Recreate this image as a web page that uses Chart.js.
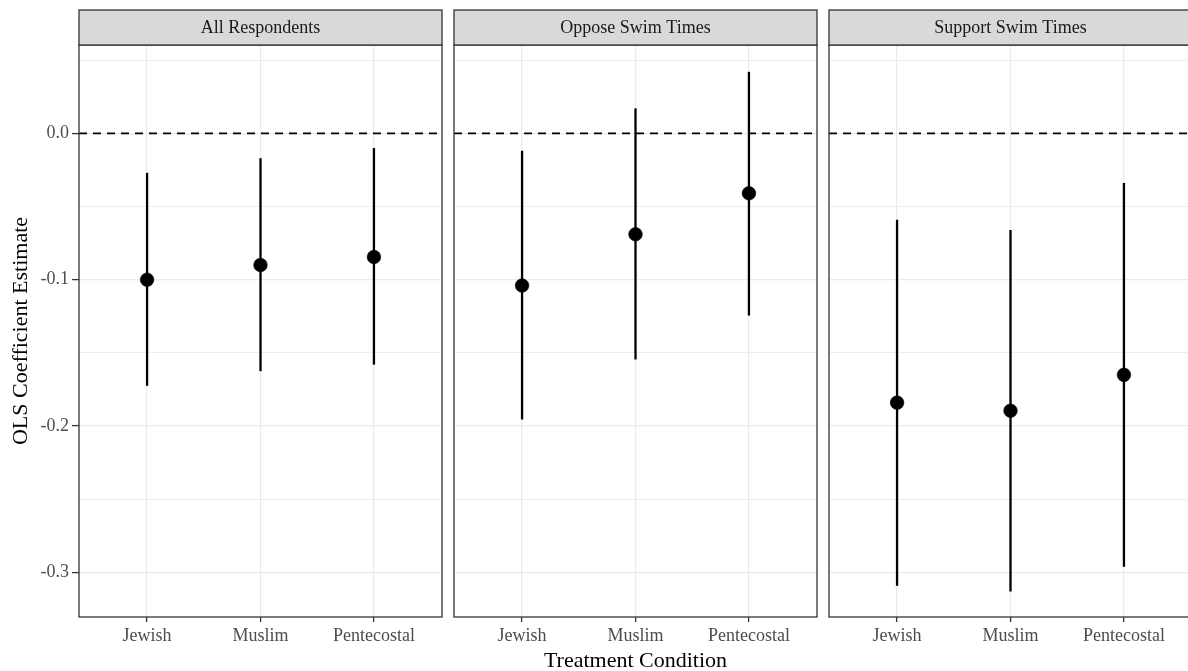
<!DOCTYPE html>
<html>
<head>
<meta charset="utf-8">
<script src="https://cdn.jsdelivr.net/npm/chart.js@4"></script>
<style>
  html, body { margin: 0; padding: 0; background: #ffffff; }
  #wrap { position: relative; width: 1188px; height: 671px; overflow: hidden; background: #ffffff; }
  canvas { position: absolute; top: 0; }
</style>
</head>
<body>
<div id="wrap">
  <canvas id="c1" width="446" height="671" style="left:0px"></canvas>
  <canvas id="c2" width="371" height="671" style="left:450px"></canvas>
  <canvas id="c3" width="371" height="671" style="left:825px"></canvas>
</div>
<script>
// ---- data ----
const categories = ['Jewish', 'Muslim', 'Pentecostal'];
const panelTitles = ['All Respondents', 'Oppose Swim Times', 'Support Swim Times'];

const estAll      = [-0.100, -0.090, -0.0845];
const lowAll      = [-0.1725, -0.1625, -0.158];
const highAll     = [-0.027, -0.017, -0.010];

const estOppose   = [-0.104, -0.069, -0.041];
const lowOppose   = [-0.1955, -0.1545, -0.1245];
const highOppose  = [-0.012, 0.017, 0.042];

const estSupport  = [-0.184, -0.1895, -0.165];
const lowSupport  = [-0.309, -0.313, -0.296];
const highSupport = [-0.059, -0.066, -0.034];

const yMajorTicks = [0.0, -0.1, -0.2, -0.3];
const yTickLabels = ['0.0', '-0.1', '-0.2', '-0.3'];
const yMinorTicks = [0.05, -0.05, -0.15, -0.25];
const referenceLine = 0;

const yAxisTitle = 'OLS Coefficient Estimate';
const xAxisTitle = 'Treatment Condition';

// ---- styling / layout ----
const FONT = '"Liberation Serif", "Times New Roman", serif';
const Y_MIN = -0.3304, Y_MAX = 0.0603;
const X_MIN = 0.4, X_MAX = 3.6;

const panelPlugin = {
  id: 'panelDecor',
  afterDraw(chart, args, opts) {
    const ctx = chart.ctx;
    const a = chart.chartArea;
    ctx.save();
    // panel border
    ctx.strokeStyle = '#333333';
    ctx.lineWidth = 1.3;
    ctx.strokeRect(a.left, a.top, a.right - a.left, a.bottom - a.top);
    // strip
    const sTop = 10;
    ctx.fillStyle = '#d9d9d9';
    ctx.fillRect(a.left, sTop, a.right - a.left, a.top - sTop);
    ctx.strokeRect(a.left, sTop, a.right - a.left, a.top - sTop);
    ctx.fillStyle = '#1a1a1a';
    ctx.font = '18px ' + FONT;
    ctx.textAlign = 'center';
    ctx.textBaseline = 'middle';
    ctx.fillText(opts.title, (a.left + a.right) / 2, (sTop + a.top) / 2 + 1);
    ctx.restore();
  }
};

function makePanel(canvasId, idx, est, low, high, opts) {
  const datasets = [];
  // point estimates
  datasets.push({
    type: 'scatter',
    data: categories.map((c, i) => ({ x: i + 1, y: est[i] })),
    backgroundColor: '#000000',
    borderColor: '#000000',
    pointRadius: 6.8,
    pointBorderWidth: 0.6,
    pointHoverRadius: 6.8,
    order: 0
  });
  // confidence intervals
  categories.forEach((c, i) => {
    datasets.push({
      type: 'line',
      data: [{ x: i + 1, y: low[i] }, { x: i + 1, y: high[i] }],
      borderColor: '#000000',
      borderWidth: 2.3,
      pointRadius: 0,
      fill: false,
      order: 1
    });
  });
  // reference line at zero
  datasets.push({
    type: 'line',
    data: [{ x: X_MIN, y: referenceLine }, { x: X_MAX, y: referenceLine }],
    borderColor: '#000000',
    borderWidth: 1.8,
    borderDash: [8, 6],
    pointRadius: 0,
    fill: false,
    order: 2
  });

  const isMajor = v => yMajorTicks.some(t => Math.abs(t - v) < 1e-9);

  return new Chart(document.getElementById(canvasId), {
    type: 'scatter',
    data: { datasets },
    plugins: [panelPlugin],
    options: {
      responsive: false,
      animation: false,
      devicePixelRatio: 1,
      events: [],
      layout: { autoPadding: false, padding: { top: 45, left: opts.padLeft, right: 4, bottom: 0 } },
      plugins: {
        legend: { display: false },
        tooltip: { enabled: false },
        panelDecor: { title: panelTitles[idx] }
      },
      scales: {
        x: {
          type: 'linear',
          min: X_MIN,
          max: X_MAX,
          afterBuildTicks: s => { s.ticks = categories.map((c, i) => ({ value: i + 1 })); },
          afterFit: s => { s.height = 54; },
          border: { display: false },
          grid: {
            color: '#ebebeb',
            lineWidth: 1.2,
            drawTicks: true,
            tickLength: 5,
            tickColor: '#333333',
            tickWidth: 1.3
          },
          ticks: {
            font: { family: FONT, size: 18 },
            color: '#4d4d4d',
            padding: 3,
            maxRotation: 0,
            autoSkip: false,
            callback: v => categories[Math.round(v) - 1]
          },
          title: {
            display: opts.xTitle,
            text: xAxisTitle,
            color: '#000000',
            font: { family: FONT, size: 22, lineHeight: 0.85 },
            padding: { top: 0, bottom: 0 }
          }
        },
        y: {
          type: 'linear',
          min: Y_MIN,
          max: Y_MAX,
          afterBuildTicks: s => {
            s.ticks = yMinorTicks.concat(yMajorTicks).sort((a, b) => a - b).map(v => ({ value: v }));
          },
          afterFit: s => { s.width = opts.yWidth; },
          border: { display: false },
          grid: {
            color: '#ebebeb',
            lineWidth: ctx => (ctx.tick && isMajor(ctx.tick.value)) ? 1.2 : 0.9,
            drawTicks: opts.yLabels,
            tickLength: 7,
            tickColor: ctx => (ctx.tick && isMajor(ctx.tick.value)) ? '#333333' : 'rgba(0,0,0,0)',
            tickWidth: 1.3
          },
          ticks: {
            display: opts.yLabels,
            font: { family: FONT, size: 18 },
            color: '#4d4d4d',
            padding: 3,
            autoSkip: false,
            callback: v => {
              const k = yMajorTicks.findIndex(t => Math.abs(t - v) < 1e-9);
              return k >= 0 ? yTickLabels[k] : '';
            }
          },
          title: {
            display: opts.yLabels,
            text: yAxisTitle,
            color: '#000000',
            font: { family: FONT, size: 22, lineHeight: 1 },
            padding: { top: 10, bottom: 0 }
          }
        }
      }
    }
  });
}

makePanel('c1', 0, estAll, lowAll, highAll, { padLeft: 0, yWidth: 79, yLabels: true, xTitle: false });
makePanel('c2', 1, estOppose, lowOppose, highOppose, { padLeft: 4, yWidth: 0, yLabels: false, xTitle: true });
makePanel('c3', 2, estSupport, lowSupport, highSupport, { padLeft: 4, yWidth: 0, yLabels: false, xTitle: false });
</script>
</body>
</html>
